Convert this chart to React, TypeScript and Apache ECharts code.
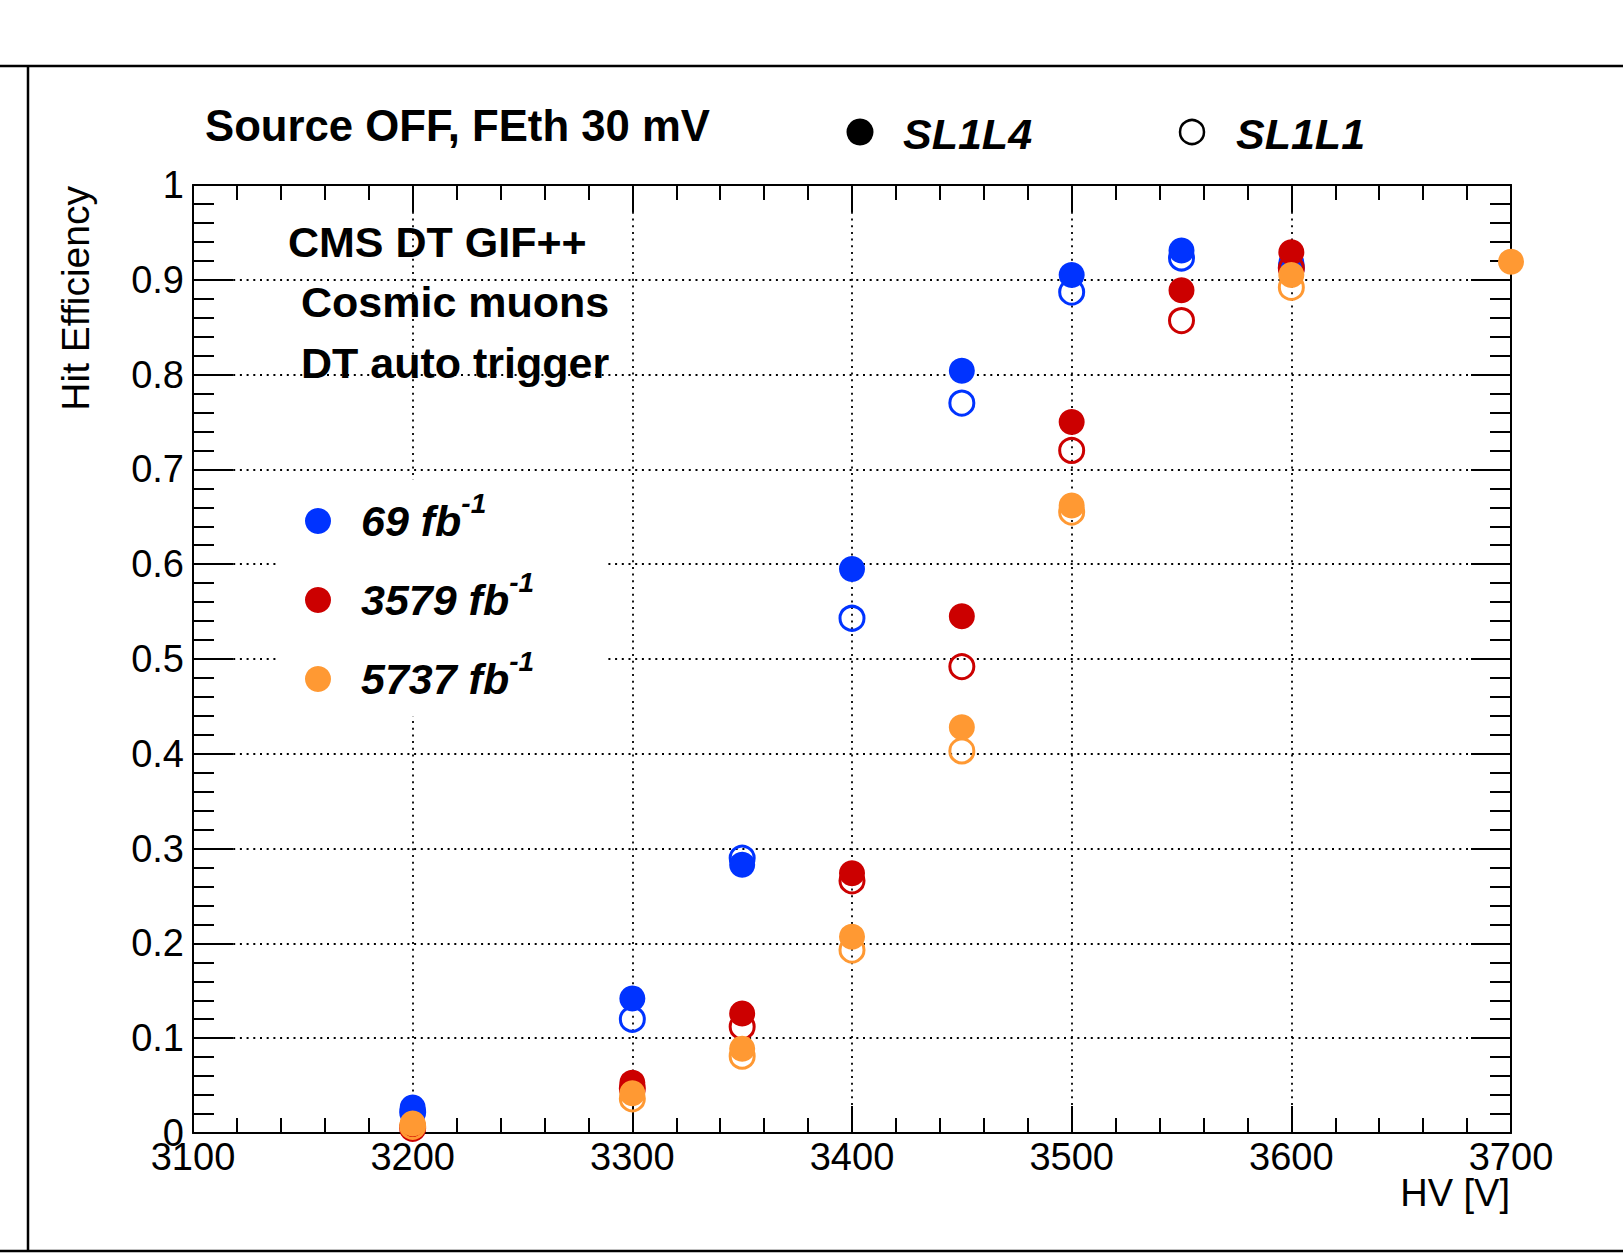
import React, { useEffect, useRef } from "react";
import * as echarts from "echarts";

const FONT = '"Liberation Sans", Arial, Helvetica, sans-serif';

// HV points [V]
const hvBlue = [3200, 3300, 3350, 3400, 3450, 3500, 3550, 3600];
const hvRed = [3200, 3300, 3350, 3400, 3450, 3500, 3550, 3600];
const hvOrangeL4 = [3200, 3300, 3350, 3400, 3450, 3500, 3600, 3700];
const hvOrangeL1 = [3200, 3300, 3350, 3400, 3450, 3500, 3600];

// Hit efficiency, SL1L4 (filled) and SL1L1 (open)
const blueL4 = [0.027, 0.142, 0.283, 0.595, 0.804, 0.905, 0.931, 0.918];
const blueL1 = [0.022, 0.12, 0.29, 0.543, 0.77, 0.887, 0.923, 0.913];
const redL4 = [0.008, 0.053, 0.126, 0.274, 0.545, 0.75, 0.889, 0.929];
const redL1 = [0.005, 0.047, 0.112, 0.266, 0.492, 0.72, 0.857, 0.912];
const orangeL4 = [0.01, 0.042, 0.089, 0.207, 0.428, 0.662, 0.905, 0.919];
const orangeL1 = [0.007, 0.036, 0.081, 0.193, 0.403, 0.655, 0.892];

const fluenceLabels = ["69", "3579", "5737"];
const BLUE = "#0033ff";
const RED = "#cc0000";
const ORANGE = "#ff9933";
const colors = [BLUE, RED, ORANGE];

const zip = (xs: number[], ys: number[]) => xs.map((x, i) => [x, ys[i]]);

const filled = (name: string, xs: number[], ys: number[], c: string) => ({
  type: "scatter",
  name,
  xAxisIndex: 0,
  yAxisIndex: 0,
  silent: true,
  symbol: "circle",
  symbolSize: 26,
  itemStyle: { color: c, opacity: 1 },
  data: zip(xs, ys),
});
const open = (name: string, xs: number[], ys: number[], c: string) => ({
  type: "scatter",
  name,
  xAxisIndex: 0,
  yAxisIndex: 0,
  silent: true,
  symbol: "circle",
  symbolSize: 24,
  itemStyle: { color: "rgba(255,255,255,0)", borderColor: c, borderWidth: 3, opacity: 1 },
  data: zip(xs, ys),
});

const axisBase = (major: number, minor: number) => ({
  axisLine: { show: true, onZero: false, lineStyle: { color: "#000", width: 2 } },
  axisTick: { show: true, inside: true, length: major, lineStyle: { color: "#000", width: 2 } },
  minorTick: { show: true, splitNumber: 5, length: minor, lineStyle: { color: "#000", width: 2 } },
});

export default function App() {
  const ref = useRef<HTMLDivElement>(null);
  useEffect(() => {
    document.body.style.margin = "0";
    document.body.style.overflow = "hidden";
    const chart = echarts.init(ref.current!, null, { renderer: "svg" });
    const gridStyle = { color: "#000", width: 1.8, type: [2, 4.7] };
    const legendItems: any[] = [];
    fluenceLabels.forEach((lab, i) => {
      const cy = 521 + i * 79;
      legendItems.push({
        type: "circle",
        z: 6,
        shape: { cx: 318, cy, r: 13 },
        style: { fill: colors[i] },
      });
      legendItems.push({
        type: "text",
        z: 6,
        x: 361,
        y: cy,
        style: {
          text: `{m|${lab} fb}{s|-1}`,
          verticalAlign: "middle",
          align: "left",
          fill: "#000",
          rich: {
            m: { fontSize: 43, fontWeight: "bold", fontStyle: "italic", fontFamily: FONT, lineHeight: 63, fill: "#000" },
            s: { fontSize: 28, fontWeight: "bold", fontStyle: "italic", fontFamily: FONT, lineHeight: 28, verticalAlign: "top", fill: "#000" },
          },
        },
      });
    });
    const boldText = (text: string, x: number, y: number, italic = false, size = 43) => ({
      type: "text",
      z: 6,
      x,
      y,
      style: {
        text,
        fontSize: size,
        fontWeight: "bold",
        fontStyle: italic ? "italic" : "normal",
        fontFamily: FONT,
        fill: "#000",
        align: "left",
        verticalAlign: "middle",
      },
    });
    chart.setOption({
      animation: false,
      backgroundColor: "#fff",
      grid: { left: 193, top: 185, right: 112, bottom: 127, containLabel: false },
      xAxis: [
        {
          type: "value",
          position: "bottom",
          min: 3100,
          max: 3700,
          interval: 100,
          ...axisBase(27, 15),
          axisLabel: { show: true, margin: 5, fontSize: 38, color: "#000", fontFamily: FONT, formatter: (v: number) => String(v) },
          splitLine: { show: true, lineStyle: gridStyle },
        },
        {
          type: "value",
          position: "top",
          min: 3100,
          max: 3700,
          interval: 100,
          ...axisBase(27, 15),
          axisLabel: { show: false },
          splitLine: { show: false },
        },
      ],
      yAxis: [
        {
          type: "value",
          position: "left",
          min: 0,
          max: 1,
          interval: 0.1,
          ...axisBase(40, 21),
          axisLabel: { show: true, margin: 9, fontSize: 38, color: "#000", fontFamily: FONT },
          splitLine: { show: true, lineStyle: gridStyle },
        },
        {
          type: "value",
          position: "right",
          min: 0,
          max: 1,
          interval: 0.1,
          ...axisBase(40, 21),
          axisLabel: { show: false },
          splitLine: { show: false },
        },
      ],
      series: [
        open("69 SL1L1", hvBlue, blueL1, BLUE),
        filled("69 SL1L4", hvBlue, blueL4, BLUE),
        open("3579 SL1L1", hvRed, redL1, RED),
        filled("3579 SL1L4", hvRed, redL4, RED),
        open("5737 SL1L1", hvOrangeL1, orangeL1, ORANGE),
        filled("5737 SL1L4", hvOrangeL4, orangeL4, ORANGE),
      ],
      graphic: [
        { type: "line", z: 6, shape: { x1: 0, y1: 66, x2: 1623, y2: 66 }, style: { stroke: "#000", lineWidth: 2.5 } },
        { type: "line", z: 6, shape: { x1: 28, y1: 66, x2: 28, y2: 1251 }, style: { stroke: "#000", lineWidth: 2.5 } },
        { type: "line", z: 6, shape: { x1: 0, y1: 1251, x2: 1623, y2: 1251 }, style: { stroke: "#000", lineWidth: 2.5 } },
        { type: "rect", z: 5, shape: { x: 276, y: 480, width: 331, height: 236 }, style: { fill: "#fff" } },
        boldText("Source OFF, FEth 30 mV", 205, 125, false, 43.7),
        { type: "circle", z: 6, shape: { cx: 860, cy: 132, r: 13.5 }, style: { fill: "#000" } },
        boldText("SL1L4", 903, 134, true),
        { type: "circle", z: 6, shape: { cx: 1192, cy: 132, r: 12 }, style: { fill: "none", stroke: "#000", lineWidth: 2.5 } },
        boldText("SL1L1", 1236, 134, true),
        boldText("CMS DT GIF++", 288, 242),
        boldText("Cosmic muons", 301, 302),
        boldText("DT auto trigger", 301, 363),
        ...legendItems,
        {
          type: "text",
          z: 6,
          x: 75,
          y: 186,
          rotation: Math.PI / 2,
          style: { text: "Hit Efficiency", fontSize: 39, fontFamily: FONT, fill: "#000", align: "right", verticalAlign: "middle" },
        },
        {
          type: "text",
          z: 6,
          x: 1510,
          y: 1193,
          style: { text: "HV [V]", fontSize: 38, fontFamily: FONT, fill: "#000", align: "right", verticalAlign: "middle" },
        },
      ],
    });
    return () => chart.dispose();
  }, []);
  return <div ref={ref} style={{ width: 1623, height: 1260, background: "#fff" }} />;
}
